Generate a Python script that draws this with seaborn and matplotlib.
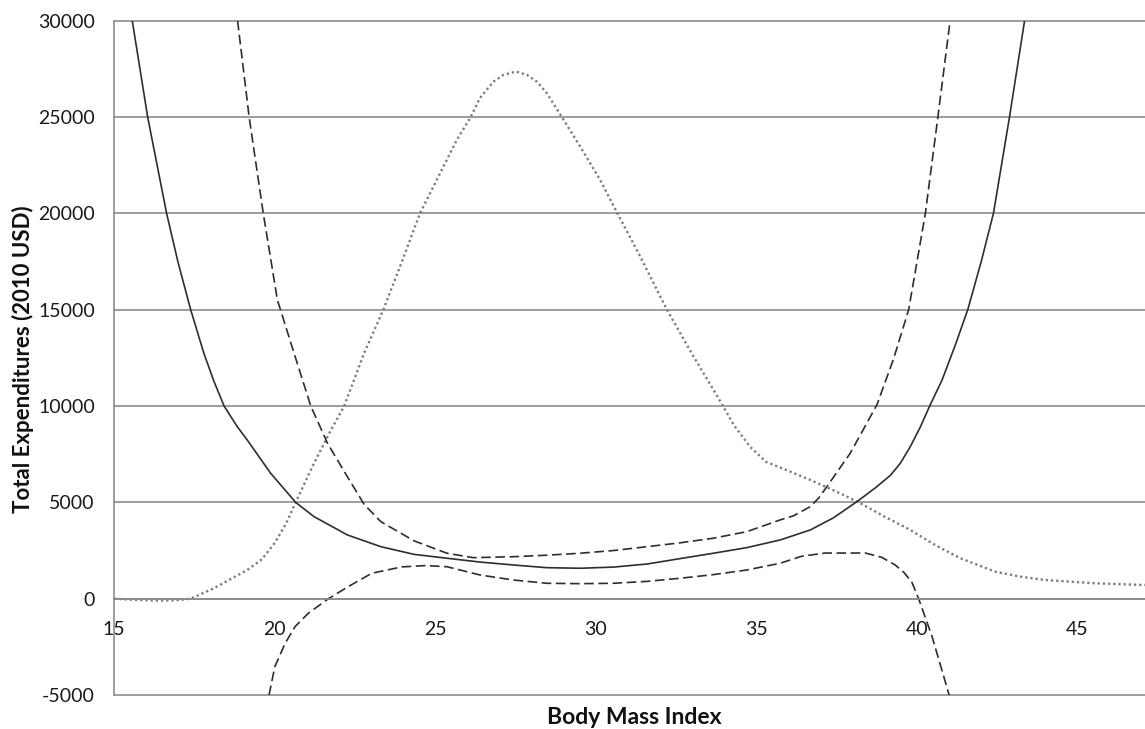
import matplotlib
matplotlib.use("Agg")
import matplotlib.pyplot as plt
import seaborn as sns
import pandas as pd

# Central estimate of total expenditures by BMI
central_bmi = [15.56, 16.04, 16.63, 16.98, 17.38, 17.79, 18.1, 18.42, 18.83, 19.14,
               19.87, 20.65, 21.22, 22.26, 23.3, 24.34, 25.36, 26.4, 27.43, 28.47,
               29.51, 30.55, 31.59, 32.62, 33.66, 34.7, 35.74, 36.68, 37.4, 38.13,
               38.7, 39.17, 39.48, 39.79, 40.1, 40.41, 40.78, 41.2, 41.58, 42.0,
               42.38, 42.88, 43.35]
central_cost = [30000, 25000, 20000, 17500, 15000, 12740, 11300, 10000, 8930, 8240,
                6510, 5000, 4260, 3310, 2700, 2300, 2100, 1900, 1750, 1610,
                1580, 1640, 1800, 2080, 2360, 2650, 3050, 3570, 4200, 5040,
                5750, 6400, 7030, 7890, 8900, 10060, 11350, 13200, 15000, 17500,
                20000, 25000, 30000]

# Upper confidence bound
upper_bmi = [18.84, 19.2, 19.64, 20.08, 20.6, 21.12, 21.64, 22.26, 22.78, 23.3,
             24.34, 25.36, 26.18, 27.43, 28.5, 29.51, 30.55, 31.59, 32.62, 33.66,
             34.7, 35.74, 36.15, 36.68, 36.95, 37.19, 37.92, 38.75, 39.26, 39.74,
             40.26, 40.65, 41.03]
upper_cost = [30000, 25000, 20000, 15510, 12740, 10000, 8070, 6330, 4900, 4000,
              3000, 2360, 2130, 2180, 2260, 2360, 2500, 2700, 2900, 3140,
              3480, 4090, 4300, 4780, 5250, 5810, 7550, 10060, 12400, 15000,
              20000, 25000, 30000]

# Lower confidence bound
lower_bmi = [19.82, 20.0, 20.32, 20.63, 21.04, 21.67, 22.29, 23.02, 23.95, 24.7,
             25.36, 26.39, 27.43, 28.47, 29.5, 30.55, 31.6, 32.62, 33.66, 34.7,
             35.74, 36.4, 37.14, 38.39, 38.9, 39.32, 39.6, 39.84, 40.05, 40.47,
             41.0]
lower_cost = [-5000, -3530, -2320, -1450, -760, 0, 630, 1320, 1650, 1720,
              1660, 1230, 970, 800, 780, 800, 900, 1060, 1250, 1490,
              1840, 2200, 2370, 2370, 2150, 1750, 1350, 850, 0, -1970,
              -5000]

# BMI distribution curve
dist_bmi = [15.0, 15.6, 16.3, 16.9, 17.38, 18.1, 19.14, 19.6, 20.0, 20.35,
            20.65, 21.22, 21.7, 22.16, 22.78, 23.38, 23.9, 24.52, 25.15, 25.67,
            26.1, 26.39, 26.81, 27.12, 27.51, 27.85, 28.16, 28.47, 28.94, 29.51,
            30.13, 30.67, 31.38, 32.21, 33.04, 33.82, 34.3, 34.8, 35.3, 35.9,
            36.68, 37.5, 38.24, 39.0, 39.79, 40.6, 41.35, 42.44, 43.2, 43.99,
            45.55, 47.1]
dist_cost = [0, -60, -100, -90, 0, 540, 1490, 2050, 2900, 3900,
             5000, 7030, 8600, 10000, 12740, 15000, 17240, 20000, 22090, 23820,
             25000, 25990, 26840, 27190, 27360, 27190, 26840, 26240, 25000, 23470,
             21740, 20000, 17760, 15000, 12570, 10400, 9000, 7890, 7100, 6700,
             6160, 5550, 4950, 4250, 3570, 2750, 2100, 1400, 1150, 970,
             800, 710]

y_ticks = [-5000, 0, 5000, 10000, 15000, 20000, 25000, 30000]
x_ticks = [15, 20, 25, 30, 35, 40, 45]

sns.set_theme(style="white")
plt.rcParams["font.family"] = ["Lato", "DejaVu Sans"]

fig = plt.figure(figsize=(11.45, 7.29), dpi=100)
ax = fig.add_axes([0.0998, 0.0466, 0.9002, 0.925])

grid_col = "#8c8c8c"
line_col = "#2e2e2e"

df_c = pd.DataFrame({"bmi": central_bmi, "cost": central_cost})
df_u = pd.DataFrame({"bmi": upper_bmi, "cost": upper_cost})
df_l = pd.DataFrame({"bmi": lower_bmi, "cost": lower_cost})
df_d = pd.DataFrame({"bmi": dist_bmi, "cost": dist_cost})

sns.lineplot(data=df_d, x="bmi", y="cost", ax=ax, color="#7c7c7c",
             linewidth=1.7, estimator=None, sort=False)
dots = ax.lines[-1]
dots.set_dashes((0.95, 1.25))
dots.set_dash_capstyle("butt")

sns.lineplot(data=df_c, x="bmi", y="cost", ax=ax, color=line_col,
             linewidth=1.2, estimator=None, sort=False)
ax.lines[-1].set_solid_joinstyle("round")
for df in (df_u, df_l):
    sns.lineplot(data=df, x="bmi", y="cost", ax=ax, color=line_col,
                 linewidth=1.2, estimator=None, sort=False)
    ax.lines[-1].set_dashes((5.8, 2.7))

ax.set_xlim(15, 47.1)
ax.set_ylim(-5000, 30000)
ax.set_yticks(y_ticks)
ax.set_xticks(x_ticks)
ax.set_yticklabels([str(v) for v in y_ticks])
ax.set_xticklabels([str(v) for v in x_ticks])

ax.grid(axis="y", color=grid_col, linewidth=1.2)
ax.grid(axis="x", visible=False)
for gl in ax.get_ygridlines():
    gl.set_clip_on(False)
ax.set_axisbelow(True)

for side in ("top", "right"):
    ax.spines[side].set_visible(False)
ax.spines["left"].set_color(grid_col)
ax.spines["left"].set_linewidth(1.2)
ax.spines["bottom"].set_position(("data", 0))
ax.spines["bottom"].set_color(grid_col)
ax.spines["bottom"].set_linewidth(1.2)

ax.tick_params(axis="y", length=0, pad=14, labelsize=14, colors="#1a1a1a")
ax.tick_params(axis="x", length=0, pad=16, labelsize=14, colors="#1a1a1a")

ax.set_xlabel("")
ax.set_ylabel("")
fig.text(23 / 1145, 1 - 359 / 729, "Total Expenditures (2010 USD)", rotation=90,
         ha="center", va="center", fontsize=16, fontweight="bold", color="#111111")
fig.text(634 / 1145, 1 - 717 / 729, "Body Mass Index", ha="center", va="center",
         fontsize=16.5, fontweight="bold", color="#111111")

fig.savefig("out.png", dpi=100, facecolor="white")
